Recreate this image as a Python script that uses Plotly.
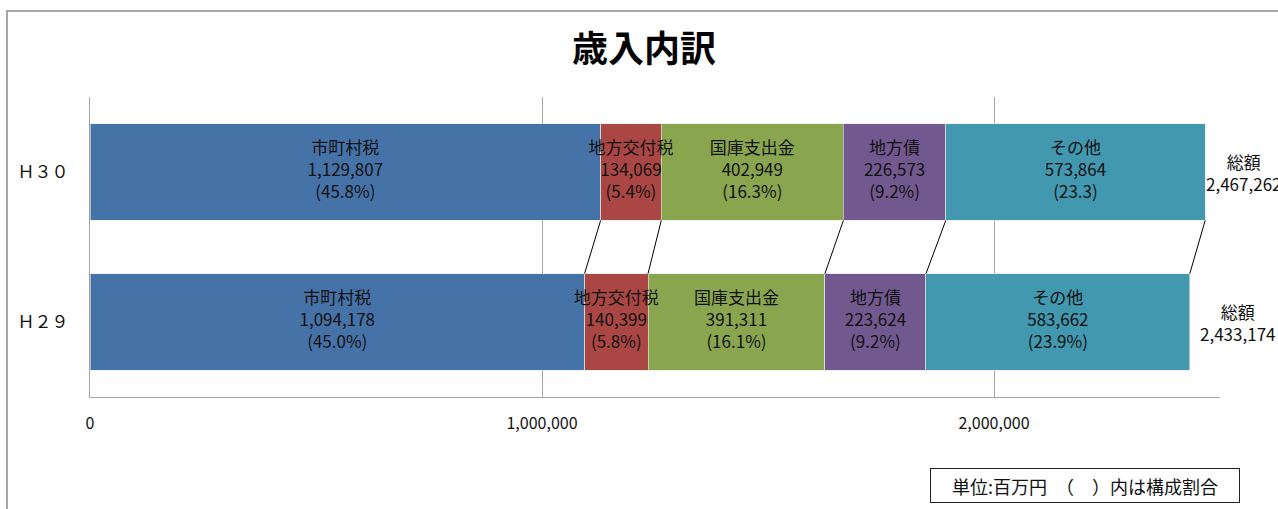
import plotly.graph_objects as go

categories = ["Ｈ３０", "Ｈ２９"]
series_names = ["市町村税", "地方交付税", "国庫支出金", "地方債", "その他"]
h30_values = [1129807, 134069, 402949, 226573, 573864]
h29_values = [1094178, 140399, 391311, 223624, 583662]
h30_shares = ["(45.8%)", "(5.4%)", "(16.3%)", "(9.2%)", "(23.3)"]
h29_shares = ["(45.0%)", "(5.8%)", "(16.1%)", "(9.2%)", "(23.9%)"]
totals = [2467262, 2433174]
x_ticks = [0, 1000000, 2000000]
x_tick_labels = ["0", "1,000,000", "2,000,000"]

colors = ["#4572A7", "#AA4643", "#89A54E", "#71588F", "#4198AF"]

JP = "Noto Sans CJK JP"
fig = go.Figure()

for i, name in enumerate(series_names):
    vals = [h30_values[i], h29_values[i]]
    fig.add_trace(go.Bar(
        y=categories, x=vals, orientation="h", name=name,
        marker=dict(color=colors[i], line=dict(color="#e8e8e8", width=0.6)),
        width=0.645, hoverinfo="skip",
    ))

# data labels on top of all bars (centre of each segment)
for cat, vals, shares in [(categories[0], h30_values, h30_shares),
                          (categories[1], h29_values, h29_shares)]:
    xs, texts = [], []
    cum = 0
    for name, v, s in zip(series_names, vals, shares):
        xs.append(cum + v / 2)
        cum += v
        texts.append(f"{name}<br>{v:,}<br>{s}")
    fig.add_trace(go.Scatter(
        x=xs, y=[cat] * len(xs), mode="text", text=texts,
        textposition="middle center",
        textfont=dict(family=JP, size=17, color="#111111"),
        hoverinfo="skip", cliponaxis=False,
    ))

# series lines between segment boundaries
half = 0.645 / 2
cum30 = 0
cum29 = 0
shapes = []
for i in range(len(series_names)):
    cum30 += h30_values[i]
    cum29 += h29_values[i]
    shapes.append(dict(type="line", xref="x", yref="y",
                       x0=cum30, y0=0 + half, x1=cum29, y1=1 - half,
                       line=dict(color="black", width=1)))

# outer frame
shapes.append(dict(type="rect", xref="paper", yref="paper",
                   x0=-83/1130, x1=1.2, y0=-0.5, y1=1 + 86/300,
                   line=dict(color="#8c8c8c", width=1.5), layer="below"))

annotations = []
for cat, tot, shift in zip(categories, totals, [39, 48]):
    annotations.append(dict(x=tot, y=cat, xref="x", yref="y",
                            text=f"総額<br>{tot:,}", showarrow=False,
                            xanchor="center", xshift=shift, align="center",
                            font=dict(family=JP, size=17, color="#111111")))

annotations.append(dict(x=(1085 - 90) / 1130, y=-(485.5 - 397) / 300,
                        xref="paper", yref="paper",
                        text="単位:百万円　（　）内は構成割合", showarrow=False,
                        xanchor="center", yanchor="middle",
                        font=dict(family=JP, size=18, color="#111111"),
                        bordercolor="#222222", borderwidth=1,
                        borderpad=2, bgcolor="white", width=304, height=29))

fig.update_layout(
    width=1278, height=509,
    margin=dict(l=90, r=58, t=97, b=112),
    paper_bgcolor="white", plot_bgcolor="white",
    barmode="stack", showlegend=False,
    title=dict(text="<b>歳入内訳</b>", x=644/1278, xanchor="center",
               y=1 - 49/509, yanchor="middle",
               font=dict(family=JP, size=36, color="black")),
    shapes=shapes, annotations=annotations,
    xaxis=dict(range=[0, 2500000], tickvals=x_ticks, ticktext=x_tick_labels,
               showgrid=True, gridcolor="#a6a6a6", gridwidth=1,
               showline=True, linecolor="#a6a6a6", linewidth=1,
               zeroline=False, ticks="", ticklabelstandoff=12,
               tickfont=dict(family=JP, size=16, color="#111111"),
               fixedrange=True),
    yaxis=dict(autorange="reversed", showline=True, linecolor="#a6a6a6",
               linewidth=1, showgrid=False, ticks="", ticklabelstandoff=17,
               tickfont=dict(family=JP, size=17, color="#111111"),
               fixedrange=True),
)

fig.write_html("out.html", config={"displayModeBar": False},
               post_script="document.body.style.margin='0';document.body.style.overflow='hidden';")
